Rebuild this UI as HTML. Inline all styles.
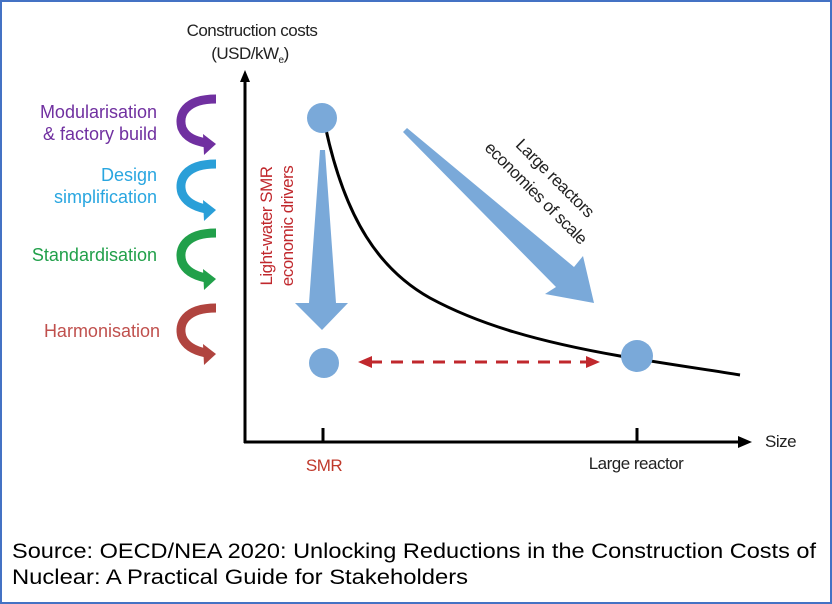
<!DOCTYPE html>
<html><head><style>
html,body{margin:0;padding:0;background:#fff}
svg{display:block}
text{font-family:"Liberation Sans",Arial,sans-serif}
</style></head><body>
<svg width="832" height="604" viewBox="0 0 832 604" xmlns="http://www.w3.org/2000/svg">
<rect x="1" y="1" width="830" height="602" fill="#fff" stroke="#4472c4" stroke-width="2"/>
<!-- axes -->
<line x1="245" y1="80" x2="245" y2="443" stroke="#000" stroke-width="3"/>
<polygon points="245,70 240,82 250,82" fill="#000"/>
<line x1="244" y1="442" x2="740" y2="442" stroke="#000" stroke-width="3"/>
<polygon points="752,442 738,436 738,448" fill="#000"/>
<line x1="323" y1="428" x2="323" y2="442" stroke="#000" stroke-width="3"/>
<line x1="637" y1="428" x2="637" y2="442" stroke="#000" stroke-width="3"/>
<text x="252" y="36" font-size="17" text-anchor="middle" fill="#222" letter-spacing="-0.5">Construction costs</text>
<text x="250" y="59" font-size="17" text-anchor="middle" fill="#222" letter-spacing="-0.5">(USD/kW<tspan font-size="10" dy="4">e</tspan><tspan dy="-4">)</tspan></text>
<text x="765" y="447" font-size="17" fill="#222" letter-spacing="-0.5">Size</text>
<text x="324" y="471" font-size="17" text-anchor="middle" fill="#c0392b" letter-spacing="-0.5">SMR</text>
<text x="636" y="469" font-size="17" text-anchor="middle" fill="#222" letter-spacing="-0.5">Large reactor</text>
<!-- curve -->
<path d="M325,125 C345,220 380,270 430,298 C480,325 540,342 620,356 C680,366 710,370 740,375" fill="none" stroke="#000" stroke-width="3"/>
<!-- circles -->
<circle cx="322" cy="118" r="15" fill="#7aa9d9"/>
<circle cx="324" cy="363" r="15" fill="#7aa9d9"/>
<circle cx="637" cy="356" r="16" fill="#7aa9d9"/>
<!-- vertical arrow -->
<polygon points="320,150 325,150 336,303 348,303 322,330 295,303 309,303" fill="#7aa9d9"/>
<!-- diagonal arrow -->
<polygon points="403,132 407,128 574,267 583,256 594,303 545,294 556,287" fill="#7aa9d9"/>
<!-- red dashed -->
<line x1="370" y1="362" x2="588" y2="362" stroke="#c0282d" stroke-width="3" stroke-dasharray="12,9"/>
<polygon points="358,362 372,356 372,368" fill="#c0282d"/>
<polygon points="600,362 586,356 586,368" fill="#c0282d"/>
<!-- rotated labels -->
<text transform="translate(272,226) rotate(-90)" font-size="17" text-anchor="middle" fill="#c0282d" letter-spacing="-0.5">Light-water SMR</text>
<text transform="translate(293,226) rotate(-90)" font-size="17" text-anchor="middle" fill="#c0282d" letter-spacing="-0.5">economic drivers</text>
<text transform="translate(551,182) rotate(45)" font-size="17" text-anchor="middle" fill="#222" letter-spacing="-0.5">Large reactors</text>
<text transform="translate(532,197) rotate(45)" font-size="17" text-anchor="middle" fill="#222" letter-spacing="-0.5">economies of scale</text>
<!-- left labels -->
<g font-size="18" text-anchor="end">
<text x="157" y="118" fill="#7030a0">Modularisation</text>
<text x="157" y="140" fill="#7030a0">&amp; factory build</text>
<text x="157" y="181" fill="#29a6e0">Design</text>
<text x="157" y="203" fill="#29a6e0">simplification</text>
<text x="157" y="261" fill="#21a04a">Standardisation</text>
<text x="160" y="337" fill="#c0504d">Harmonisation</text>
</g>
<!-- curved arrows -->
<g fill="none" stroke-width="9">
<path d="M216,99 C185,99 178,115 182,128 C186,138 196,141 206,143" stroke="#7030a0"/>
<path d="M216,164 C185,164 178,180 182,193 C186,203 196,207 206,209" stroke="#2a9fd8"/>
<path d="M216,233 C185,233 178,249 182,262 C186,272 196,276 206,278" stroke="#21a04a"/>
<path d="M216,308 C185,308 178,324 182,337 C186,347 196,351 206,353" stroke="#b0443f"/>
</g>
<polygon points="216,144 203,134 204,155" fill="#7030a0"/>
<polygon points="216,210 203,200 204,221" fill="#2a9fd8"/>
<polygon points="216,279 203,269 204,290" fill="#21a04a"/>
<polygon points="216,354 203,344 204,365" fill="#b0443f"/>
<!-- source -->
<text x="12" y="558" font-size="21" fill="#000" textLength="804" lengthAdjust="spacingAndGlyphs">Source: OECD/NEA 2020: Unlocking Reductions in the Construction Costs of</text>
<text x="12" y="584" font-size="21" fill="#000" textLength="456" lengthAdjust="spacingAndGlyphs">Nuclear: A Practical Guide for Stakeholders</text>
</svg>
</body></html>
